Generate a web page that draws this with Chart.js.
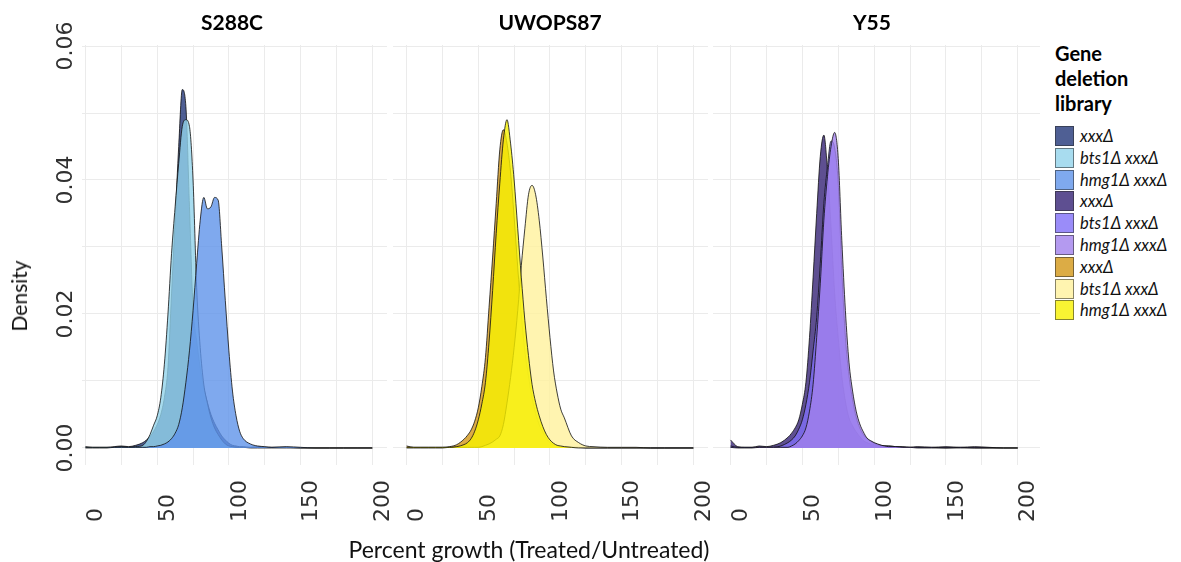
<!DOCTYPE html>
<html>
<head>
<meta charset="utf-8">
<script src="https://cdn.jsdelivr.net/npm/chart.js@4.4.0/dist/chart.umd.min.js"></script>
<style>
html,body{margin:0;padding:0;background:#fff;}
#wrap{position:relative;width:1181px;height:562px;overflow:hidden;background:#fff;}
#wrap canvas{position:absolute;top:0;}
.ttl{position:absolute;top:8px;height:28px;line-height:28px;font-family:Lato,"Open Sans",sans-serif;font-weight:700;font-size:21px;color:#000;transform:translateX(-50%);white-space:nowrap;}
#xtitle{position:absolute;left:529px;top:535px;line-height:28px;font-family:Lato,"Open Sans",sans-serif;font-size:23px;color:#111;transform:translateX(-50%);white-space:nowrap;}
#ytitle{position:absolute;left:19px;top:296px;line-height:24px;font-family:Lato,"Open Sans",sans-serif;font-size:21px;color:#111;transform:translate(-50%,-50%) rotate(-90deg);white-space:nowrap;}
#legend{position:absolute;left:1055px;top:0;font-family:Lato,"Open Sans",sans-serif;}
#legend .lt{position:absolute;left:0;font-weight:700;font-size:20px;line-height:25px;color:#000;white-space:nowrap;}
#legend .sw{position:absolute;left:0;width:17px;height:18px;border:1px solid rgba(40,40,40,0.55);}
#legend .lb{position:absolute;left:25px;font-style:italic;font-size:16.5px;line-height:20px;color:#111;white-space:nowrap;}
</style>
</head>
<body>
<div id="wrap">
  <canvas id="c0" width="400" height="562" style="left:0px"></canvas>
  <canvas id="c1" width="327" height="562" style="left:393px"></canvas>
  <canvas id="c2" width="332" height="562" style="left:713px"></canvas>
  <div class="ttl" id="t0" style="left:232px"></div>
  <div class="ttl" id="t1" style="left:550px"></div>
  <div class="ttl" id="t2" style="left:872px"></div>
  <div id="xtitle">Percent growth (Treated/Untreated)</div>
  <div id="ytitle">Density</div>
  <div id="legend"></div>
</div>
<script>
// ---------------- data ----------------
const PANEL_NAMES = ['S288C', 'UWOPS87', 'Y55'];
const SERIES_LABELS = ['xxx\u0394', 'bts1\u0394 xxx\u0394', 'hmg1\u0394 xxx\u0394'];
const LEGEND_TITLE = ['Gene', 'deletion', 'library'];

const X_GRID = [0,5,10,15,20,25,30,35,
  40,42.5,45,47.5,50,52.5,55,57.5,60,62.5,65,67.5,70,72.5,75,77.5,80,82.5,85,87.5,90,92.5,95,97.5,100,102.5,105,107.5,110,
  115,120,125,130,140,150,160,170,180,190,200];

// S288C
const S288C_XXX = [0.0002,0.0001,0.0001,0.0001,0.0002,0.0003,0.0002,0.0004,
  0.0008,0.0012,0.0017,0.0025,0.0035,0.005,0.0075,0.012,0.023,0.034,0.045,0.0535,0.051,0.036,0.021,0.016,0.012,0.009,0.0068,0.005,0.0037,0.0027,0.0018,0.0012,0.0007,0.0004,0.0003,0.0002,0.0002,
  0.0001,0.0002,0.0001,0.0001,0.0001,0,0,0,0,0,0];
const S288C_BTS1 = [0.0001,0.0001,0.0001,0.0001,0.0001,0.0002,0.0001,0.0002,
  0.0004,0.001,0.002,0.0034,0.0048,0.0075,0.0125,0.020,0.029,0.036,0.0425,0.048,0.049,0.048,0.040,0.024,0.015,0.0095,0.0067,0.0045,0.003,0.002,0.0012,0.0006,0.0003,0.0002,0.0001,0.0001,0.0001,
  0,0,0,0,0,0,0,0,0,0,0];
const S288C_HMG1 = [0,0,0,0,0.0001,0.0001,0.0001,0.0001,
  0.0001,0.0001,0.0002,0.0002,0.0003,0.0004,0.0006,0.0009,0.0014,0.0022,0.0035,0.006,0.0098,0.0145,0.0205,0.0275,0.034,0.0374,0.0357,0.036,0.0374,0.037,0.030,0.022,0.0145,0.0085,0.0048,0.0025,0.0014,
  0.0006,0.0003,0.0002,0.0001,0.0002,0.0001,0,0,0,0,0];

// UWOPS87
const UWOPS_XXX = [0.0003,0.0001,0.0001,0.0001,0.0001,0.0001,0.0002,0.0005,
  0.0013,0.0019,0.0027,0.004,0.006,0.0092,0.0135,0.021,0.0285,0.0365,0.0445,0.0475,0.0455,0.0412,0.0345,0.027,0.020,0.0145,0.0108,0.0075,0.0052,0.0035,0.0024,0.0014,0.0008,0.0005,0.0003,0.0002,0.0002,
  0.0001,0.0001,0,0,0,0,0,0,0,0,0];
const UWOPS_BTS1 = [0,0,0,0,0,0,0.0001,0.0001,
  0.0001,0.0001,0.0001,0.0001,0.0001,0.0002,0.0004,0.0006,0.0009,0.0013,0.0018,0.0035,0.0067,0.0105,0.015,0.0205,0.0272,0.0328,0.0378,0.0392,0.0378,0.034,0.0285,0.0223,0.0165,0.0115,0.0082,0.0058,0.0045,
  0.0018,0.0008,0.0003,0.0002,0.0001,0.0001,0.0001,0,0,0,0];
const UWOPS_HMG1 = [0.0001,0.0001,0.0001,0.0001,0.0001,0.0001,0.0001,0.0002,
  0.0005,0.0008,0.0014,0.0025,0.0042,0.0066,0.0098,0.0158,0.0235,0.032,0.0395,0.046,0.049,0.0455,0.040,0.0328,0.0255,0.019,0.0138,0.0095,0.0068,0.0048,0.0032,0.002,0.0012,0.0007,0.0004,0.0003,0.0002,
  0.0001,0,0,0,0,0,0,0,0,0,0];

// Y55
const Y55_XXX = [0.0012,0.0002,0.0001,0.0001,0.0003,0.0002,0.0004,0.0008,
  0.0016,0.0022,0.003,0.0042,0.0065,0.0098,0.0165,0.0255,0.035,0.0435,0.0467,0.0415,0.033,0.0232,0.0165,0.0108,0.007,0.0045,0.0033,0.0024,0.0017,0.0011,0.0008,0.0006,0.0005,0.0004,0.0003,0.0003,0.0003,
  0.0002,0.0002,0.0001,0.0002,0.0001,0.0002,0.0001,0.0002,0.0001,0,0];
const Y55_BTS1 = [0.0003,0.0001,0.0001,0.0001,0.0001,0.0001,0.0001,0.0003,
  0.0008,0.0012,0.0018,0.0028,0.0042,0.0065,0.0098,0.0145,0.0195,0.0275,0.0365,0.042,0.0458,0.0448,0.0395,0.0265,0.0165,0.0108,0.0072,0.0046,0.003,0.002,0.0014,0.001,0.0007,0.0005,0.0004,0.0003,0.0003,
  0.0002,0.0001,0.0001,0.0001,0.0001,0,0.0001,0,0,0,0];
const Y55_HMG1 = [0.0001,0,0,0,0.0001,0.0001,0.0001,0.0001,
  0.0001,0.0003,0.0006,0.0011,0.0018,0.003,0.0055,0.0095,0.0165,0.0245,0.034,0.0405,0.045,0.0471,0.0432,0.031,0.0205,0.0128,0.0085,0.0055,0.0036,0.0024,0.0015,0.0011,0.0008,0.0006,0.0004,0.0003,0.0002,
  0.0002,0.0001,0.0001,0,0,0,0,0,0,0,0];

const X_TICKS = [0,25,50,75,100,125,150,175,200];
const X_TICK_LABELS = ['0','','50','','100','','150','','200'];
const Y_TICKS = [0,0.01,0.02,0.03,0.04,0.05,0.06];
const Y_TICK_LABELS = ['0.00','','0.02','','0.04','','0.06'];

// ---------------- styles ----------------
const COLORS = {
  S288C:   ['rgba(35,55,121,0.8)',  'rgba(146,211,235,0.8)', 'rgba(95,148,234,0.8)'],
  UWOPS87: ['rgba(211,151,22,0.8)', 'rgba(255,241,156,0.8)', 'rgba(247,241,0,0.8)'],
  Y55:     ['rgba(54,35,118,0.8)',  'rgba(129,111,248,0.8)', 'rgba(161,129,236,0.8)']
};
const OUTLINE = 'rgba(15,15,15,0.8)';
const GRID = '#ebebeb';
const TICK_FONT = {family: '"DejaVu Sans", sans-serif', size: 22};
const TICK_COLOR = '#303030';
const Y_MIN = -0.00254, Y_MAX = 0.06015;

const PANELS = [
  {name: 'S288C',   series: [S288C_XXX, S288C_BTS1, S288C_HMG1], xmin: -2.44, xmax: 210.25, yWidth: 82, padRight: 13, showY: true},
  {name: 'UWOPS87', series: [UWOPS_XXX, UWOPS_BTS1, UWOPS_HMG1], xmin: -9.48, xmax: 210.2,  yWidth: 0,  padRight: 12, showY: false},
  {name: 'Y55',     series: [Y55_XXX, Y55_BTS1, Y55_HMG1],       xmin: -12.2, xmax: 215.5,  yWidth: 0,  padRight: 5,  showY: false}
];

function padLabel(s) {
  if (!s) return '';
  return s + '\u2007'.repeat(3 - s.length);
}

PANELS.forEach((p, pi) => {
  document.getElementById('t' + pi).textContent = PANEL_NAMES[pi];
  const cols = COLORS[p.name];
  new Chart(document.getElementById('c' + pi), {
    type: 'line',
    data: {
      datasets: p.series.map((vals, k) => ({
        label: SERIES_LABELS[k],
        data: X_GRID.map((x, j) => ({x: x, y: vals[j]})),
        backgroundColor: cols[k],
        borderColor: OUTLINE,
        borderWidth: 1,
        fill: 'origin',
        pointRadius: 0,
        cubicInterpolationMode: 'monotone',
        order: 3 - k
      }))
    },
    options: {
      responsive: false,
      animation: false,
      devicePixelRatio: 1,
      layout: {padding: {top: 45, right: p.padRight, left: 0, bottom: 0}},
      plugins: {legend: {display: false}, tooltip: {enabled: false}, title: {display: false}},
      scales: {
        x: {
          type: 'linear', min: p.xmin, max: p.xmax,
          afterBuildTicks: s => { s.ticks = X_TICKS.map(v => ({value: v})); },
          afterFit: s => { s.height = 97; s.paddingLeft = 0; s.paddingRight = 0; },
          grid: {color: GRID, lineWidth: 1, drawTicks: false},
          border: {display: false},
          ticks: {
            autoSkip: false, minRotation: 90, maxRotation: 90, padding: 15, labelOffset: 11,
            font: TICK_FONT, color: TICK_COLOR,
            callback: (v, i) => padLabel(X_TICK_LABELS[i])
          }
        },
        y: {
          type: 'linear', min: Y_MIN, max: Y_MAX,
          afterBuildTicks: s => { s.ticks = Y_TICKS.map(v => ({value: v})); },
          afterFit: s => { s.width = p.yWidth; s.paddingTop = 0; s.paddingBottom = 0; },
          grid: {color: GRID, lineWidth: 1, drawTicks: false},
          border: {display: false},
          ticks: {
            display: p.showY, minRotation: 90, crossAlign: 'center', padding: -9,
            font: TICK_FONT, color: TICK_COLOR,
            callback: (v, i) => Y_TICK_LABELS[i]
          }
        }
      }
    }
  });
});

// legend
const leg = document.getElementById('legend');
LEGEND_TITLE.forEach((t, i) => {
  const d = document.createElement('div');
  d.className = 'lt'; d.textContent = t; d.style.top = (41 + 25 * i) + 'px';
  leg.appendChild(d);
});
const LEGEND_ORDER = ['S288C', 'Y55', 'UWOPS87'];
let li = 0;
LEGEND_ORDER.forEach(name => {
  COLORS[name].forEach((c, k) => {
    const cy = 136 + 21.8 * li;
    const sw = document.createElement('div');
    sw.className = 'sw'; sw.style.top = (cy - 10) + 'px'; sw.style.background = c;
    leg.appendChild(sw);
    const lb = document.createElement('div');
    lb.className = 'lb'; lb.textContent = SERIES_LABELS[k]; lb.style.top = (cy - 10) + 'px';
    leg.appendChild(lb);
    li++;
  });
});
</script>
</body>
</html>
